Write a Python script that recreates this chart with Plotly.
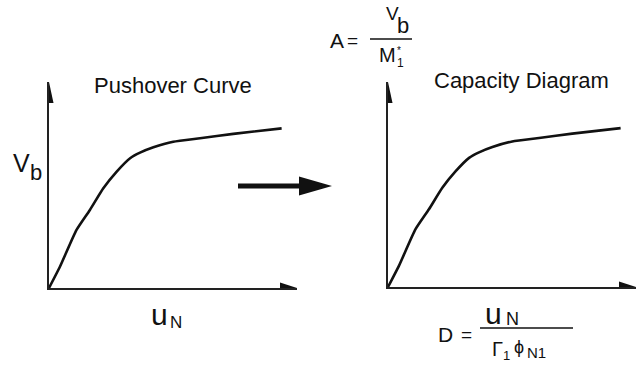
import plotly.graph_objects as go

W, H = 638, 365

# Pushover curve: roof displacement u_N vs. base shear V_b (arbitrary units)
u_N = [0, 4.4, 11.1, 16.5, 21.9, 27.3, 32.7, 36.7, 42.1, 50.1, 60.9, 74.3, 93.8]
V_b = [0, 10.3, 28.2, 37.9, 48.4, 56.5, 63.0, 65.7, 68.3, 71.0, 72.7, 74.8, 77.5]

# Modal conversion factors of the equivalent SDOF system
gamma_phi = 1.25   # Γ1·φN1
m_star = 1.6       # M1*

# Capacity diagram: D = u_N / (Γ1 φN1), A = V_b / M1*
D = [u / gamma_phi for u in u_N]
A = [v / m_star for v in V_b]

U_MAX, V_MAX = 100, 100

INK = "#111111"
FONT = "Liberation Sans, Arial, sans-serif"


def px(x):
    return x / W


def py(y):
    return 1 - y / H


fig = go.Figure()
curve_line = dict(color=INK, width=2.6, shape="spline", smoothing=0.5)
fig.add_trace(go.Scatter(x=u_N, y=V_b, mode="lines", xaxis="x", yaxis="y",
                         line=curve_line, hoverinfo="skip"))
fig.add_trace(go.Scatter(x=D, y=A, mode="lines", xaxis="x2", yaxis="y2",
                         line=curve_line, hoverinfo="skip"))

axis_common = dict(showgrid=False, zeroline=False, showticklabels=False,
                   ticks="", showline=True, linecolor="#222222", linewidth=2,
                   fixedrange=True)

fig.update_layout(
    width=W, height=H,
    margin=dict(l=0, r=0, t=0, b=0),
    paper_bgcolor="white", plot_bgcolor="rgba(0,0,0,0)",
    showlegend=False,
    xaxis=dict(domain=[px(49), px(297)], range=[0, U_MAX], anchor="y", **axis_common),
    yaxis=dict(domain=[py(288), py(82)], range=[0, V_MAX], anchor="x", **axis_common),
    xaxis2=dict(domain=[px(388), px(636)], range=[0, U_MAX / gamma_phi], anchor="y2", **axis_common),
    yaxis2=dict(domain=[py(287), py(82)], range=[0, V_MAX / m_star], anchor="x2", **axis_common),
)

shapes = []
# Arrow heads at the ends of both axes of each diagram
for xr, yr, xmax, ymax in (("x", "y", U_MAX, V_MAX),
                           ("x2", "y2", U_MAX / gamma_phi, V_MAX / m_star)):
    shapes.append(dict(type="path", xref=xr, yref=yr, xsizemode="pixel", ysizemode="pixel",
                       xanchor=0, yanchor=ymax, path="M0,0 L-4.5,-21 L4.5,-21 Z",
                       fillcolor=INK, line=dict(width=0)))
    shapes.append(dict(type="path", xref=xr, yref=yr, xsizemode="pixel", ysizemode="pixel",
                       xanchor=xmax, yanchor=0, path="M0,0 L-17,5.5 L-17,-5.5 Z",
                       fillcolor=INK, line=dict(width=0)))

# Transformation arrow between the two diagrams
shapes.append(dict(type="path", xref="paper", yref="paper", xsizemode="pixel", ysizemode="pixel",
                   xanchor=px(238), yanchor=py(186),
                   path="M0,2.4 L61,2.4 L61,9.5 L94,0 L61,-9.5 L61,-2.4 L0,-2.4 Z",
                   fillcolor=INK, line=dict(width=0)))

# Fraction bars
shapes.append(dict(type="line", xref="paper", yref="paper",
                   x0=px(370), x1=px(412), y0=py(39), y1=py(39), line=dict(color=INK, width=1.5)))
shapes.append(dict(type="line", xref="paper", yref="paper",
                   x0=px(480), x1=px(573), y0=py(328), y1=py(328), line=dict(color=INK, width=1.5)))
fig.update_layout(shapes=shapes)


def label(text, x, y, size, anchor="center"):
    fig.add_annotation(text=text, x=px(x), y=py(y), xref="paper", yref="paper",
                       xanchor=anchor, yanchor="middle", showarrow=False,
                       font=dict(family=FONT, size=size, color=INK))


# Titles
label("Pushover Curve", 173, 85, 22)
label("Capacity Diagram", 521, 81, 22)

# Left axis labels
label("V", 21, 163, 25)
label("b", 36, 172, 22)
label("u", 159, 314, 30)
label("N", 176, 322, 17)

# A = V_b / M1*
label("A", 337, 41, 21)
label("=", 353, 40, 19)
label("V", 392, 14, 19)
label("b", 403, 25, 22)
label("M", 388, 55, 20)
label("1", 400, 63, 12)
label("*", 399, 51, 10)

# D = u_N / (Γ1 φN1)
label("D", 445, 334, 21)
label("=", 466, 334, 19)
label("u", 493, 313, 30)
label("N", 512, 319, 18)
label("Γ", 497, 349, 20)
label("1", 506, 355, 13)
label("ϕ", 519, 347, 18)
label("N1", 536, 352, 15)

fig.write_html("out.html")
